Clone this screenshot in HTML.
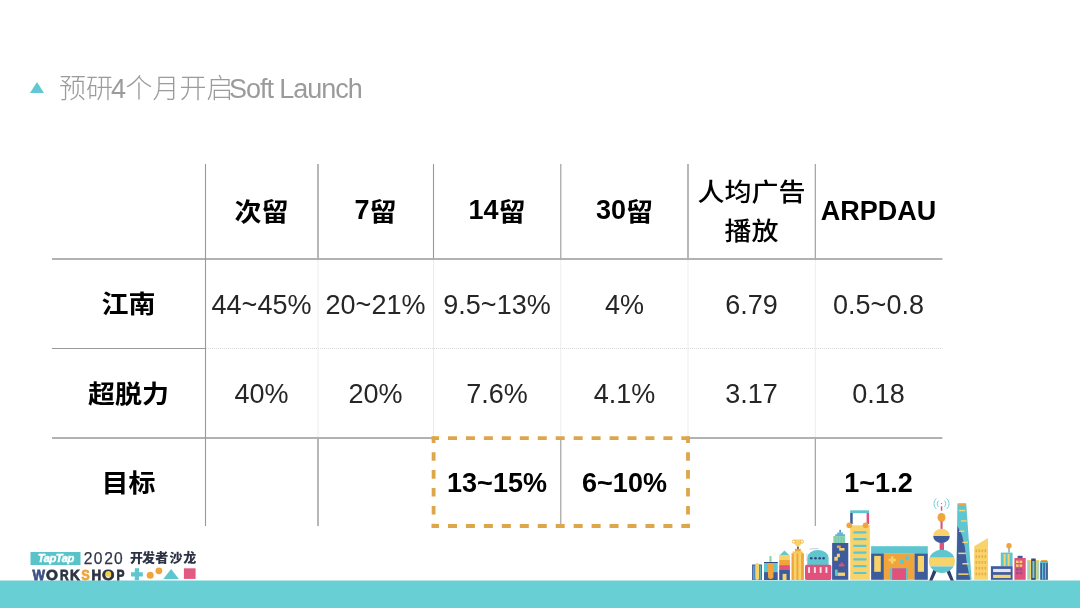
<!DOCTYPE html>
<html lang="zh-CN">
<head>
<meta charset="utf-8">
<title>预研4个月开启Soft Launch</title>
<style>
html,body{margin:0;padding:0;}
body{width:1080px;height:608px;position:relative;overflow:hidden;background:#fff;
  font-family:"Liberation Sans","Noto Sans CJK SC",sans-serif;color:#111;}
.abs{position:absolute;}
.title{position:absolute;left:59px;top:72px;font-size:27px;line-height:34px;color:#9b9b9b;font-weight:300;white-space:nowrap;}
.title .en{letter-spacing:-1.05px;margin-left:-4.5px;}
.tri{position:absolute;left:30px;top:81.5px;width:0;height:0;border-left:7.6px solid transparent;border-right:7.6px solid transparent;border-bottom:11.5px solid #5fc8d2;}
.cell{position:absolute;display:flex;align-items:center;justify-content:center;text-align:center;white-space:nowrap;}
.h{font-weight:bold;font-size:27px;color:#000;}
.sy{display:inline-block;transform:scaleY(0.93);}
.u2{box-sizing:border-box;padding-bottom:2px;}
.u{box-sizing:border-box;padding-bottom:1.6px;}
.d{box-sizing:border-box;padding-top:2px;}
.n{font-size:27px;color:#262626;box-sizing:border-box;padding-top:3px;}
.bar{position:absolute;left:0;top:581px;width:1080px;height:27px;background:#68cfd4;box-shadow:0 -1px 0 #b4e7ea;}
</style>
</head>
<body>
<div class="tri"></div>
<div class="title">预研<span style="margin-left:-2px;margin-right:-0.5px">4</span>个月开启<span class="en">Soft Launch</span></div>

<!-- table lines -->
<svg class="abs" style="left:0;top:0;" width="1080" height="608">
 <g stroke="#d9d9d9" stroke-width="1" stroke-dasharray="1 1" fill="none">
  <line x1="206" y1="348.5" x2="942.4" y2="348.5"/>
  <line x1="318.0" y1="259.7" x2="318.0" y2="437.3"/>
  <line x1="433.5" y1="259.7" x2="433.5" y2="437.3"/>
  <line x1="560.8" y1="259.7" x2="560.8" y2="437.3"/>
  <line x1="688.0" y1="259.7" x2="688.0" y2="437.3"/>
  <line x1="815.3" y1="259.7" x2="815.3" y2="437.3"/>
 </g>
 <g stroke="#999" fill="none">
  <line x1="52" y1="259" x2="942.4" y2="259" stroke-width="1.4"/>
  <line x1="52" y1="348.5" x2="205" y2="348.5" stroke-width="1.1"/>
  <line x1="52" y1="438" x2="433" y2="438" stroke-width="1.4"/>
  <line x1="688.5" y1="438" x2="942.4" y2="438" stroke-width="1.4"/>
  <line x1="205.5" y1="164" x2="205.5" y2="526" stroke-width="1.1"/>
  <line x1="318.0" y1="164" x2="318.0" y2="258.3" stroke-width="1.4"/>
  <line x1="318.0" y1="438.7" x2="318.0" y2="526" stroke-width="1.4"/>
  <line x1="433.5" y1="164" x2="433.5" y2="258.3" stroke-width="1.1"/>
  <line x1="560.8" y1="164" x2="560.8" y2="258.3" stroke-width="1.1"/>
  <line x1="560.8" y1="438.7" x2="560.8" y2="526" stroke-width="1.1"/>
  <line x1="688.0" y1="164" x2="688.0" y2="258.3" stroke-width="1.4"/>
  <line x1="815.3" y1="164" x2="815.3" y2="258.3" stroke-width="1.1"/>
  <line x1="815.3" y1="438.7" x2="815.3" y2="526" stroke-width="1.1"/>
 </g>
</svg>

<!-- header -->
<div class="cell h u" style="left:205px;top:164px;width:113px;height:94px;"><span class="sy">次留</span></div>
<div class="cell h u2" style="left:318px;top:164px;width:115px;height:94px;">7<span class="sy">留</span></div>
<div class="cell h u2" style="left:433px;top:164px;width:128px;height:94px;">14<span class="sy">留</span></div>
<div class="cell h u2" style="left:561px;top:164px;width:127px;height:94px;">30<span class="sy">留</span></div>
<div class="cell h" style="left:688px;top:164px;width:127px;height:94px;line-height:41.7px;font-weight:500;box-sizing:border-box;padding-top:3px;"><span class="sy">人均广告<br>播放</span></div>
<div class="cell h" style="left:815px;top:164px;width:127px;height:94px;">ARPDAU</div>

<!-- row 1 -->
<div class="cell h u" style="left:52px;top:259px;width:153px;height:89px;"><span class="sy">江南</span></div>
<div class="cell n" style="left:205px;top:259px;width:113px;height:89px;">44~45%</div>
<div class="cell n" style="left:318px;top:259px;width:115px;height:89px;">20~21%</div>
<div class="cell n" style="left:433px;top:259px;width:128px;height:89px;">9.5~13%</div>
<div class="cell n" style="left:561px;top:259px;width:127px;height:89px;">4%</div>
<div class="cell n" style="left:688px;top:259px;width:127px;height:89px;">6.79</div>
<div class="cell n" style="left:815px;top:259px;width:127px;height:89px;">0.5~0.8</div>

<!-- row 2 -->
<div class="cell h u" style="left:52px;top:348px;width:153px;height:90px;"><span class="sy">超脱力</span></div>
<div class="cell n" style="left:205px;top:348px;width:113px;height:90px;">40%</div>
<div class="cell n" style="left:318px;top:348px;width:115px;height:90px;">20%</div>
<div class="cell n" style="left:433px;top:348px;width:128px;height:90px;">7.6%</div>
<div class="cell n" style="left:561px;top:348px;width:127px;height:90px;">4.1%</div>
<div class="cell n" style="left:688px;top:348px;width:127px;height:90px;">3.17</div>
<div class="cell n" style="left:815px;top:348px;width:127px;height:90px;">0.18</div>

<!-- row 3 -->
<div class="cell h u" style="left:52px;top:438px;width:153px;height:88px;"><span class="sy">目标</span></div>
<div class="cell h d" style="left:433px;top:438px;width:128px;height:88px;">13~15%</div>
<div class="cell h d" style="left:561px;top:438px;width:127px;height:88px;">6~10%</div>
<div class="cell h d" style="left:815px;top:438px;width:127px;height:88px;">1~1.2</div>

<!-- dashed highlight -->
<svg class="abs" style="left:0;top:0;" width="1080" height="608">
 <g stroke="#dea64a" stroke-width="3.8" fill="none">
  <line x1="431.7" y1="438.2" x2="689.8" y2="438.2" stroke-dasharray="9 8.95" stroke-dashoffset="1.65"/>
  <line x1="431.7" y1="526" x2="689.8" y2="526" stroke-dasharray="9 8.95" stroke-dashoffset="1.65"/>
  <line x1="433.6" y1="436.4" x2="433.6" y2="527.8" stroke-dasharray="8.6 9.3" stroke-dashoffset="2.1"/>
  <line x1="688" y1="436.4" x2="688" y2="527.8" stroke-dasharray="8.6 9.3" stroke-dashoffset="2.1"/>
 </g>
</svg>

<div class="bar"></div>
<!-- logo -->
<svg class="abs" style="left:0;top:0;" width="300" height="608">
  <rect x="30.5" y="552" width="50" height="13" fill="#58c4ca"/>
  <text x="55.8" y="561.6" text-anchor="middle" fill="#fff" font-family="Liberation Sans, sans-serif" font-weight="bold" font-style="italic" font-size="11.2" letter-spacing="-0.5" stroke="#fff" stroke-width="0.45">TapTap</text>
  <text y="563.6" fill="#30364a" stroke="#30364a" stroke-width="0.25" font-family="Liberation Sans, sans-serif" font-size="15.6" x="83.8 93.7 104.3 113.9">2020</text>
  <text y="562.4" fill="#2d3344" font-family="Liberation Sans, Noto Sans CJK SC, sans-serif" font-weight="900" font-size="13" x="130 142 155.2 169.5 183.3">开发者沙龙</text>
  <g font-family="Liberation Sans, sans-serif" font-weight="bold" font-size="15.2" stroke-width="0.8">
  <text transform="translate(32.57,579.6) scale(0.87,0.96)" fill="#3d5186" stroke="#3d5186">W</text>
  <text transform="translate(46.0,579.6) scale(1.01,0.96)" fill="#2d3344" stroke="#2d3344">O</text>
  <text transform="translate(60.0,579.6) scale(0.79,0.96)" fill="#2d3344" stroke="#2d3344">R</text>
  <text transform="translate(70.1,579.6) scale(0.89,0.96)" fill="#2d3344" stroke="#2d3344">K</text>
  <text transform="translate(81.2,579.6) scale(0.84,0.96)" fill="#eea53a" stroke="#eea53a">S</text>
  <text transform="translate(91.4,579.6) scale(0.88,0.96)" fill="#2d3344" stroke="#2d3344">H</text>
  <text transform="translate(102.0,579.6) scale(1.05,0.96)" fill="#2d3344" stroke="#2d3344">O</text>
  <text transform="translate(116.4,579.6) scale(0.79,0.96)" fill="#2d3344" stroke="#2d3344">P</text>
  </g>
  <circle cx="108.3" cy="573.9" r="2.9" fill="#f2d24c"/>
  <path d="M131,572.2 h3.8 v-3.9 h4.2 v3.9 h3.8 v4.2 h-3.8 v3.9 h-4.2 v-3.9 h-3.8 z" fill="#5fc6d0"/>
  <circle cx="150.2" cy="575.3" r="3.5" fill="#f2a43c"/>
  <circle cx="158.9" cy="570.8" r="3.4" fill="#f2a43c"/>
  <polygon points="163.3,579 171.1,568.9 178.9,579" fill="#5fc6d0"/>
  <rect x="183.9" y="568.3" width="11.7" height="10.6" fill="#e25a83"/>
</svg>
<svg class="abs" style="left:0;top:0;" width="1080" height="608" viewBox="0 0 1080 608">
 <g shape-rendering="auto">
  <!-- A -->
  <rect x="752.1" y="564.5" width="9.8" height="15.5" fill="#3e5b9c"/>
  <rect x="753.3" y="565.5" width="1.2" height="14.5" fill="#5fc6d0"/>
  <rect x="759.6" y="565.5" width="1.2" height="14.5" fill="#5fc6d0"/>
  <rect x="755.2" y="563" width="3.9" height="17" rx="1.6" fill="#f7d36a"/>
  <!-- B -->
  <rect x="769.4" y="555.7" width="2.2" height="6.5" rx="1" fill="#8ed3ae"/>
  <rect x="764" y="562" width="13.7" height="10.1" fill="#5fc6d0"/>
  <rect x="764" y="572.1" width="13.7" height="7.9" fill="#3e5b9c"/>
  <rect x="764" y="562" width="13.7" height="1" fill="#2f4a80"/>
  <path d="M768,563.3 h5.4 v13 a2.7,2.7 0 0 1 -5.4,0 z" fill="#f2a43c"/>
  <!-- C -->
  <polygon points="779.6,555.3 784.4,550.4 789.5,555.3" fill="#6cc7c0"/>
  <rect x="779.2" y="555" width="10.7" height="5" fill="#f7d36a"/>
  <rect x="779.2" y="560" width="10.7" height="5.1" fill="#f2a43c"/>
  <rect x="779.2" y="565.1" width="10.7" height="4.9" fill="#e0527c"/>
  <rect x="779.2" y="570" width="10.7" height="10" fill="#3e5b9c"/>
  <rect x="782.6" y="573.9" width="3.9" height="6.1" fill="#f7d36a"/>
  <!-- D trophy tower -->
  <rect x="791.5" y="553.2" width="12.4" height="26.8" fill="#f2a43c"/>
  <rect x="793.8" y="553.2" width="2.7" height="26.8" fill="#f7d36a"/>
  <rect x="798.4" y="553.2" width="2.7" height="26.8" fill="#f7d36a"/>
  <rect x="792.6" y="551.5" width="10.2" height="1.8" fill="#f7c85a"/>
  <rect x="795" y="548.8" width="5.8" height="2.8" fill="#f2a43c"/>
  <rect x="797" y="546.4" width="1.8" height="2.5" fill="#6b5a3a"/>
  <path d="M794.6,539.4 h6.6 v2.6 a3.3,4.4 0 0 1 -6.6,0 z" fill="#f7d36a"/>
  <circle cx="793.9" cy="541.6" r="1.6" fill="none" stroke="#f2b84a" stroke-width="1"/>
  <circle cx="801.9" cy="541.6" r="1.6" fill="none" stroke="#f2b84a" stroke-width="1"/>
  <!-- E dome -->
  <path d="M807.3,565 V558 A10.65,8 0 0 1 828.6,558 V565 Z" fill="#5fc6d0"/>
  <rect x="805" y="564.8" width="26.3" height="15.2" rx="1.5" fill="#e0527c"/>
  <rect x="808.1" y="567.1" width="1.9" height="5.8" fill="#fbe3ea"/>
  <rect x="813.9" y="567.1" width="1.9" height="5.8" fill="#fbe3ea"/>
  <rect x="819.7" y="567.1" width="1.9" height="5.8" fill="#fbe3ea"/>
  <rect x="825.5" y="567.1" width="1.9" height="5.8" fill="#fbe3ea"/>
  <circle cx="811.2" cy="558.2" r="1.3" fill="#2f4a80"/>
  <circle cx="815.5" cy="558.2" r="1.3" fill="#2f4a80"/>
  <circle cx="819.7" cy="558.2" r="1.3" fill="#2f4a80"/>
  <circle cx="823.6" cy="558.2" r="1.3" fill="#2f4a80"/>
  <line x1="809.5" y1="549" x2="818.5" y2="548.6" stroke="#9aa3b8" stroke-width="0.6"/>
  <line x1="806.8" y1="553" x2="806.8" y2="561" stroke="#b4bccc" stroke-width="0.5"/>
  <!-- F tetris -->
  <rect x="839.4" y="529.8" width="1.4" height="3" fill="#3e7fb8"/>
  <path d="M835.2,536.2 v-2 h2 v-1.6 h5.8 v1.6 h2 v2 z" fill="#5fb6d6"/>
  <rect x="833.3" y="536" width="11.8" height="7" fill="#8ed3ae"/>
  <rect x="835.2" y="537" width="0.9" height="6" fill="#6cc7c0"/>
  <rect x="838" y="537" width="0.9" height="6" fill="#6cc7c0"/>
  <rect x="840.8" y="537" width="0.9" height="6" fill="#6cc7c0"/>
  <rect x="843.4" y="537" width="0.9" height="6" fill="#6cc7c0"/>
  <rect x="832.1" y="543" width="16.2" height="36.8" fill="#3e5b9c"/>
  <rect x="836.9" y="545.5" width="3.8" height="2.6" fill="#f2a43c"/>
  <rect x="839.2" y="548" width="5.3" height="2.6" fill="#f7d36a"/>
  <rect x="836.9" y="553.7" width="3" height="3.5" fill="#f7d36a"/>
  <rect x="834.3" y="556.8" width="3.5" height="3.9" fill="#f7d36a"/>
  <rect x="840.6" y="562.6" width="2.2" height="2" fill="#e0527c"/>
  <rect x="838.8" y="564.4" width="5.7" height="2" fill="#e0527c"/>
  <rect x="835" y="569.6" width="2.6" height="6.3" fill="#5fc6d0"/>
  <rect x="837.6" y="572.6" width="7.4" height="3.3" fill="#f7d36a"/>
  <!-- G music tower -->
  <rect x="850.2" y="510.3" width="18.9" height="2.9" fill="#5fc6d0"/>
  <rect x="850.2" y="513" width="2.5" height="11" fill="#3e5b9c"/>
  <rect x="866.6" y="513" width="2.5" height="11" fill="#e0527c"/>
  <rect x="850.2" y="525.3" width="19.6" height="54.5" fill="#f7d36a"/>
  <circle cx="849.3" cy="525.3" r="2.9" fill="#f2a43c"/>
  <circle cx="865.6" cy="525.3" r="2.9" fill="#f2a43c"/>
  <g fill="#5fc6d0">
   <rect x="853.3" y="531.2" width="13.3" height="2.2" rx="1"/>
   <rect x="853.3" y="538" width="13.3" height="2.2" rx="1"/>
   <rect x="853.3" y="544.8" width="13.3" height="2.2" rx="1"/>
   <rect x="853.3" y="551.5" width="13.3" height="2.2" rx="1"/>
   <rect x="853.3" y="558.3" width="13.3" height="2.2" rx="1"/>
   <rect x="853.3" y="565" width="13.3" height="2.2" rx="1"/>
   <rect x="853.3" y="571.9" width="13.3" height="2.2" rx="1"/>
  </g>
  <!-- H wide building -->
  <rect x="871.1" y="546.2" width="56.7" height="7.5" fill="#5fc6d0"/>
  <rect x="871.1" y="553.5" width="12.8" height="26.3" fill="#3e5b9c"/>
  <rect x="914.3" y="553.5" width="13.5" height="26.3" fill="#3e5b9c"/>
  <rect x="883.9" y="553.5" width="30.4" height="26.3" fill="#f2a43c"/>
  <rect x="874.2" y="555.9" width="6.6" height="15.9" fill="#f7d36a"/>
  <rect x="917.8" y="555.9" width="6.2" height="15.9" fill="#f7d36a"/>
  <rect x="890.1" y="568.3" width="18" height="11.5" fill="#5fc6d0"/>
  <rect x="892.2" y="568.3" width="13.8" height="11.5" fill="#e0527c"/>
  <path d="M892.2,556.4 v7.2 M888.6,560 h7.2" stroke="#f7d36a" stroke-width="2.4"/>
  <circle cx="901.9" cy="561.8" r="2.2" fill="#5fc6d0"/>
  <circle cx="907.4" cy="558.3" r="2.2" fill="#5fc6d0"/>
  <!-- Pearl tower -->
  <path d="M936.3,498.5 a7,7 0 0 0 0,10.5 M938.6,500.6 a4.5,4.5 0 0 0 0,6.4 M946.7,498.5 a7,7 0 0 1 0,10.5 M944.4,500.6 a4.5,4.5 0 0 1 0,6.4" fill="none" stroke="#6cc7cf" stroke-width="0.9"/>
  <rect x="940.8" y="506.3" width="1.5" height="4.4" fill="#d9557a"/>
  <circle cx="941.5" cy="503.6" r="0.7" fill="#d9557a"/>
  <ellipse cx="941.5" cy="517.5" rx="4" ry="4.6" fill="#f2a43c"/>
  <rect x="940.5" y="521.5" width="2.1" height="7.6" fill="#d9557a"/>
  <path d="M933.2,536 A8.3,7.3 0 0 1 949.8,536 Z" fill="#f7d36a"/>
  <path d="M933.2,536 A8.3,7.2 0 0 0 949.8,536 Z" fill="#3e5b9c"/>
  <rect x="939.6" y="542.8" width="4.4" height="7.2" fill="#d9557a"/>
  <path d="M933.5,569.6 L929.2,580.6 L932.4,580.6 L936.8,571 Z" fill="#2f3f6a"/>
  <path d="M949.5,569.6 L953.8,580.6 L950.6,580.6 L946.2,571 Z" fill="#2f3f6a"/>
  <clipPath id="ball"><ellipse cx="941.9" cy="561.3" rx="13" ry="11.6"/></clipPath>
  <g clip-path="url(#ball)">
   <rect x="928" y="549" width="28" height="8.7" fill="#5fc6d0"/>
   <rect x="928" y="557.7" width="28" height="8.7" fill="#f7d36a"/>
   <rect x="928" y="566.4" width="28" height="7" fill="#5fc6d0"/>
  </g>
  <!-- Shanghai tower -->
  <polygon points="957.4,503.4 966.2,503.4 971.6,579.8 956.3,579.8" fill="#5fc6d0"/>
  <polygon points="957.5,526 962,535 964.8,547 966.9,563.4 970.2,579.8 956.3,579.8" fill="#3e5b9c"/>
  <rect x="958.4" y="503.4" width="7.6" height="2.2" fill="#f2a43c"/>
  <g fill="#f7d36a">
   <rect x="959" y="509.8" width="6.2" height="1.5"/>
   <rect x="961" y="520.2" width="5.5" height="1.5"/>
   <rect x="959" y="530.5" width="5.5" height="1.5"/>
   <rect x="962.4" y="541.6" width="5.5" height="1.5"/>
   <rect x="958.3" y="552.6" width="7.6" height="1.5"/>
   <rect x="962.4" y="563" width="6.2" height="1.5"/>
   <rect x="958.3" y="573.4" width="10.3" height="1.5"/>
  </g>
  <!-- Yellow slanted -->
  <polygon points="974.2,546.3 988,538 988,579.8 974.2,579.8" fill="#f7d36a"/>
  <g fill="#eba843"><rect x="975.6" y="549.5" width="1.5" height="2.6"/><rect x="978.6" y="549.5" width="1.5" height="2.6"/><rect x="981.6" y="549.5" width="1.5" height="2.6"/><rect x="984.6" y="549.5" width="1.5" height="2.6"/><rect x="975.6" y="555.3" width="1.5" height="2.6"/><rect x="978.6" y="555.3" width="1.5" height="2.6"/><rect x="981.6" y="555.3" width="1.5" height="2.6"/><rect x="984.6" y="555.3" width="1.5" height="2.6"/><rect x="975.6" y="561.1" width="1.5" height="2.6"/><rect x="978.6" y="561.1" width="1.5" height="2.6"/><rect x="981.6" y="561.1" width="1.5" height="2.6"/><rect x="984.6" y="561.1" width="1.5" height="2.6"/><rect x="975.6" y="566.9" width="1.5" height="2.6"/><rect x="978.6" y="566.9" width="1.5" height="2.6"/><rect x="981.6" y="566.9" width="1.5" height="2.6"/><rect x="984.6" y="566.9" width="1.5" height="2.6"/><rect x="975.6" y="572.7" width="1.5" height="2.6"/><rect x="978.6" y="572.7" width="1.5" height="2.6"/><rect x="981.6" y="572.7" width="1.5" height="2.6"/><rect x="984.6" y="572.7" width="1.5" height="2.6"/></g>
  <!-- I -->
  <circle cx="1009" cy="545.8" r="2.7" fill="#f2a43c"/>
  <rect x="1008.3" y="548" width="1.4" height="4.6" fill="#8ea0a8"/>
  <rect x="1000.8" y="552.6" width="11.8" height="13.6" fill="#5fc6d0"/>
  <rect x="1003.6" y="554" width="2" height="12" fill="#f7d36a"/>
  <rect x="1007.6" y="554" width="2" height="12" fill="#f7d36a"/>
  <rect x="990.9" y="566.2" width="21.7" height="13.6" fill="#3e5b9c"/>
  <rect x="993.1" y="568.9" width="17.6" height="3.2" fill="#e6e2f0"/>
  <rect x="993.1" y="574.8" width="17.6" height="3.2" fill="#f7d36a"/>
  <!-- J pink -->
  <rect x="1017.6" y="555.8" width="5" height="2.4" fill="#3e5b9c"/>
  <rect x="1014.4" y="558" width="11.3" height="21.8" fill="#e0527c"/>
  <g fill="#f7d36a"><rect x="1016" y="560.6" width="2.6" height="2.4"/><rect x="1019.6" y="560.6" width="2.6" height="2.4"/><rect x="1016" y="564.4" width="2.6" height="2.4"/><rect x="1019.6" y="564.4" width="2.6" height="2.4"/></g>
  <g fill="#9a4d8c"><rect x="1016" y="568.4" width="2.6" height="2.2"/><rect x="1019.6" y="568.4" width="2.6" height="2.2"/><rect x="1016" y="572" width="2.6" height="2.2"/><rect x="1019.6" y="572" width="2.6" height="2.2"/></g>
  <!-- K -->
  <rect x="1027" y="559.9" width="12.3" height="19.9" fill="#f7d36a"/>
  <rect x="1027.8" y="561" width="2.2" height="18" fill="#9fd5c6"/>
  <rect x="1036.6" y="561" width="2.2" height="18" fill="#9fd5c6"/>
  <rect x="1031.2" y="558.5" width="4.5" height="21.3" fill="#2f4a80"/>
  <rect x="1032.4" y="561" width="2.1" height="17" fill="#7fd0b0"/>
  <!-- L -->
  <rect x="1041" y="560" width="6.2" height="2" fill="#f2a43c"/>
  <rect x="1040.2" y="561.6" width="7.7" height="18.2" fill="#3e5b9c"/>
  <rect x="1040.2" y="561.6" width="7.7" height="1.6" fill="#5fc6d0"/>
  <rect x="1042" y="563.5" width="1.3" height="16" fill="#5fc6d0"/>
  <rect x="1044.8" y="563.5" width="1.3" height="16" fill="#5fc6d0"/>
 </g>
</svg>

</body>
</html>
